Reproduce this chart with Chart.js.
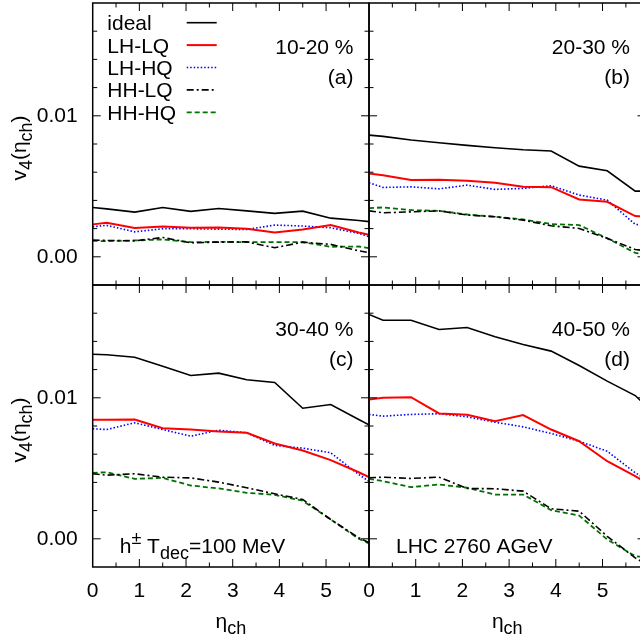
<!DOCTYPE html>
<html lang="en">
<head>
<meta charset="UTF-8">
<title>v4(eta_ch)</title>
<script src="https://cdn.jsdelivr.net/npm/chart.js@4.4.0/dist/chart.umd.min.js"></script>
<style>
    html, body {
        margin: 0;
        width: 640px;
        height: 643px;
        overflow: hidden;
        background: #fff;
    }
    canvas {
        position: absolute;
    }
</style>
</head>
<body>
<canvas id="pa" width="372" height="288" style="left:0;top:0"></canvas>
<canvas id="pb" width="296" height="288" style="left:350px;top:0"></canvas>
<canvas id="pc" width="372" height="361" style="left:0;top:282px"></canvas>
<canvas id="pd" width="296" height="361" style="left:350px;top:282px"></canvas>

<script>
// pseudorapidity points
const eta = [0, 0.3, 0.9, 1.5, 2.1, 2.7, 3.3, 3.9, 4.5, 5.1, 5.7, 6.0];

// (a) 10-20 %
const a_ideal = [0.00350, 0.00340, 0.00317, 0.00350, 0.00322, 0.00343, 0.00326, 0.00308, 0.00324, 0.00274, 0.00258, 0.00246];
const a_lhlq  = [0.00230, 0.00241, 0.00204, 0.00215, 0.00206, 0.00208, 0.00199, 0.00173, 0.00194, 0.00225, 0.00173, 0.00150];
const a_lhhq  = [0.00213, 0.00223, 0.00177, 0.00199, 0.00199, 0.00196, 0.00194, 0.00225, 0.00218, 0.00206, 0.00166, 0.00135];
const a_hhlq  = [0.00118, 0.00116, 0.00113, 0.00137, 0.00099, 0.00104, 0.00106, 0.00064, 0.00104, 0.00088, 0.00043, 0.00025];
const a_hhhq  = [0.00113, 0.00111, 0.00116, 0.00123, 0.00104, 0.00106, 0.00104, 0.00104, 0.00104, 0.00071, 0.00073, 0.00058];

// (b) 20-30 %
const b_ideal = [0.00863, 0.00854, 0.00828, 0.00809, 0.00790, 0.00773, 0.00759, 0.00750, 0.00643, 0.00610, 0.00466, 0.00466];
const b_lhlq  = [0.00591, 0.00579, 0.00544, 0.00546, 0.00539, 0.00525, 0.00496, 0.00494, 0.00407, 0.00390, 0.00289, 0.00283];
const b_lhhq  = [0.00525, 0.00492, 0.00496, 0.00482, 0.00508, 0.00478, 0.00485, 0.00504, 0.00438, 0.00402, 0.00230, 0.00222];
const b_hhlq  = [0.00326, 0.00312, 0.00319, 0.00326, 0.00296, 0.00284, 0.00260, 0.00220, 0.00201, 0.00131, 0.00052, 0.00040];
const b_hhhq  = [0.00345, 0.00350, 0.00331, 0.00326, 0.00300, 0.00284, 0.00265, 0.00232, 0.00225, 0.00131, 0.00028, 0.00015];

// (c) 30-40 %
const c_ideal = [0.01309, 0.01305, 0.01288, 0.01224, 0.01158, 0.01175, 0.01128, 0.01109, 0.00926, 0.00952, 0.00846, 0.00795];
const c_lhlq  = [0.00844, 0.00844, 0.00846, 0.00784, 0.00775, 0.00761, 0.00752, 0.00676, 0.00626, 0.00558, 0.00472, 0.00425];
const c_lhhq  = [0.00780, 0.00775, 0.00823, 0.00775, 0.00728, 0.00770, 0.00752, 0.00662, 0.00643, 0.00610, 0.00456, 0.00390];
const c_hhlq  = [0.00461, 0.00451, 0.00461, 0.00437, 0.00432, 0.00402, 0.00362, 0.00319, 0.00279, 0.00137, 0.00007, -0.00040];
const c_hhhq  = [0.00468, 0.00472, 0.00425, 0.00432, 0.00378, 0.00357, 0.00326, 0.00312, 0.00270, 0.00137, 0.00000, -0.00045];

// (d) 40-50 %
const d_ideal = [0.01591, 0.01550, 0.01550, 0.01484, 0.01499, 0.01433, 0.01378, 0.01331, 0.01229, 0.01118, 0.01016, 0.00920];
const d_lhlq  = [0.00988, 0.01000, 0.01004, 0.00889, 0.00879, 0.00834, 0.00877, 0.00775, 0.00692, 0.00550, 0.00444, 0.00385];
const d_lhhq  = [0.00882, 0.00870, 0.00882, 0.00887, 0.00865, 0.00827, 0.00794, 0.00747, 0.00692, 0.00621, 0.00468, 0.00409];
const d_hhlq  = [0.00433, 0.00437, 0.00428, 0.00437, 0.00357, 0.00355, 0.00338, 0.00213, 0.00196, 0.00018, -0.00135, -0.00194];
const d_hhhq  = [0.00425, 0.00409, 0.00366, 0.00385, 0.00362, 0.00314, 0.00314, 0.00203, 0.00165, -0.00005, -0.00123, -0.00135];

const seriesNames = ['ideal', 'LH-LQ', 'LH-HQ', 'HH-LQ', 'HH-HQ'];
const xTicks = [0, 1, 2, 3, 4, 5];
const yTicks = [0, 0.01];
const xRange = [0, 5.92];
const yRange = [-0.002, 0.018];

const FONT = "'Liberation Sans', Arial, Helvetica, sans-serif";
Chart.defaults.font.family = FONT;
Chart.defaults.font.size = 21;
Chart.defaults.color = '#000';

const styles = [
    { borderColor: '#000000', borderWidth: 1.6, borderDash: [] },
    { borderColor: '#ff0000', borderWidth: 2.0, borderDash: [] },
    { borderColor: '#0000ff', borderWidth: 1.6, borderDash: [1.5, 2] },
    { borderColor: '#000000', borderWidth: 1.6, borderDash: [7, 3, 2, 3] },
    { borderColor: '#007000', borderWidth: 1.8, borderDash: [5, 3] }
];

// text with sub/superscripts: parts are strings or [text, 'sub'|'sup']
function drawRich(ctx, parts, x, y, align) {
    const items = parts.map(p => typeof p === 'string' ? { t: p, s: null } : { t: p[0], s: p[1] });
    let w = 0;
    items.forEach(it => {
        ctx.font = (it.s ? 18 : 21) + 'px ' + FONT;
        it.w = ctx.measureText(it.t).width;
        w += it.w;
    });
    let cx = align === 'center' ? x - w / 2 : align === 'right' ? x - w : x;
    ctx.textAlign = 'left';
    items.forEach(it => {
        ctx.font = (it.s ? 18 : 21) + 'px ' + FONT;
        const dy = it.s === 'sub' ? 6 : it.s === 'sup' ? -9 : 0;
        ctx.fillText(it.t, cx, y + dy);
        cx += it.w;
    });
}

const decor = {
    id: 'decor',
    afterDatasetsDraw(chart, args, o) {
        const { ctx, chartArea: a, scales: { x, y } } = chart;
        ctx.save();
        ctx.fillStyle = '#000';
        ctx.strokeStyle = '#000';
        ctx.textBaseline = 'alphabetic';

        // inward ticks on all four sides
        ctx.lineWidth = 1;
        ctx.beginPath();
        for (let k = -1; k <= 9; k++) {
            const py = y.getPixelForValue(k * 0.002);
            if (py < a.top + 1 || py > a.bottom - 1) continue;
            const len = k % 5 === 0 ? 8 : 4.5;
            ctx.moveTo(a.left, py); ctx.lineTo(a.left + len, py);
            ctx.moveTo(a.right, py); ctx.lineTo(a.right - len, py);
        }
        for (let k = 1; k <= 11; k++) {
            const v = k * 0.5;
            if (v >= xRange[1]) break;
            const px = x.getPixelForValue(v);
            const len = k % 2 === 0 ? 8 : 4.5;
            ctx.moveTo(px, a.bottom); ctx.lineTo(px, a.bottom - len);
            ctx.moveTo(px, a.top); ctx.lineTo(px, a.top + len);
        }
        ctx.stroke();

        // frame
        ctx.lineWidth = 1.5;
        ctx.setLineDash([]);
        ctx.strokeRect(a.left, a.top, a.right - a.left, a.bottom - a.top);

        // centrality and panel tag
        ctx.font = '21px ' + FONT;
        ctx.textAlign = 'right';
        ctx.fillText(o.tag[0], a.right - 15.5, a.top + 51);
        ctx.fillText(o.tag[1], a.right - 15.5, a.top + 81);

        if (o.legend) {
            chart.data.datasets.forEach((ds, i) => {
                const cy = a.top + 19.7 + 22.4 * i;
                ctx.font = '21px ' + FONT;
                ctx.textAlign = 'left';
                ctx.fillText(ds.label, a.left + 14.6, cy + 7.5);
                ctx.beginPath();
                ctx.strokeStyle = ds.borderColor;
                ctx.lineWidth = ds.borderWidth;
                ctx.setLineDash(ds.borderDash);
                ctx.moveTo(a.left + 94, cy);
                ctx.lineTo(a.left + 124, cy);
                ctx.stroke();
            });
            ctx.setLineDash([]);
        }

        if (o.note) {
            drawRich(ctx, o.note, a.left + 27, a.bottom - 14, 'left');
        }

        if (o.yTitle) {
            ctx.save();
            ctx.translate(25.5, (a.top + a.bottom) / 2 + 4);
            ctx.rotate(-Math.PI / 2);
            drawRich(ctx, ['v', ['4', 'sub'], '(\u03b7', ['ch', 'sub'], ')'], 0, 0, 'center');
            ctx.restore();
        }

        if (o.xTitle) {
            drawRich(ctx, ['\u03b7', ['ch', 'sub']], (a.left + a.right) / 2, a.bottom + 61, 'center');
        }
        ctx.restore();
    }
};

function makePanel(id, values, opt) {
    const datasets = values.map((vals, i) => Object.assign({
        label: seriesNames[i],
        data: eta.map((e, j) => ({ x: e, y: vals[j] })),
        pointRadius: 0,
        tension: 0,
        fill: false,
        clip: 0
    }, styles[i]));

    return new Chart(document.getElementById(id), {
        type: 'line',
        data: { datasets: datasets },
        options: {
            responsive: false,
            animation: false,
            events: [],
            layout: { padding: opt.padding },
            plugins: {
                legend: { display: false },
                tooltip: { enabled: false },
                decor: opt.decor
            },
            scales: {
                x: {
                    type: 'linear',
                    min: xRange[0],
                    max: xRange[1],
                    display: opt.showX,
                    grid: { display: false, drawTicks: false },
                    border: { display: false },
                    afterBuildTicks: s => { s.ticks = xTicks.map(v => ({ value: v })); },
                    afterFit: s => {
                        s.height = opt.showX ? 76 : 0;
                        s.paddingLeft = 0;
                        s.paddingRight = 0;
                    },
                    ticks: {
                        autoSkip: false,
                        maxRotation: 0,
                        padding: 12,
                        callback: v => String(v)
                    }
                },
                y: {
                    type: 'linear',
                    min: yRange[0],
                    max: yRange[1],
                    display: opt.showY,
                    grid: { display: false, drawTicks: false },
                    border: { display: false },
                    afterBuildTicks: s => { s.ticks = yTicks.map(v => ({ value: v })); },
                    afterFit: s => {
                        s.width = opt.showY ? 92.7 : 0;
                        s.paddingTop = 0;
                        s.paddingBottom = 0;
                    },
                    ticks: {
                        padding: 15,
                        callback: v => v.toFixed(2)
                    }
                }
            }
        },
        plugins: [decor]
    });
}

makePanel('pa', [a_ideal, a_lhlq, a_lhhq, a_hhlq, a_hhhq], {
    padding: { top: 3, right: 3, bottom: 3, left: 0 },
    showX: false, showY: true,
    decor: { tag: ['10-20 %', '(a)'], legend: true, yTitle: true }
});
makePanel('pb', [b_ideal, b_lhlq, b_lhhq, b_hhlq, b_hhhq], {
    padding: { top: 3, right: 0.5, bottom: 3, left: 19 },
    showX: false, showY: false,
    decor: { tag: ['20-30 %', '(b)'] }
});
makePanel('pc', [c_ideal, c_lhlq, c_lhhq, c_hhlq, c_hhhq], {
    padding: { top: 3, right: 3, bottom: 0, left: 0 },
    showX: true, showY: true,
    decor: { tag: ['30-40 %', '(c)'], yTitle: true, xTitle: true,
             note: ['h', ['\u00b1', 'sup'], ' T', ['dec', 'sub'], '=100 MeV'] }
});
makePanel('pd', [d_ideal, d_lhlq, d_lhhq, d_hhlq, d_hhhq], {
    padding: { top: 3, right: 0.5, bottom: 0, left: 19 },
    showX: true, showY: false,
    decor: { tag: ['40-50 %', '(d)'], xTitle: true, note: ['LHC 2760 AGeV'] }
});
</script>
</body>
</html>
